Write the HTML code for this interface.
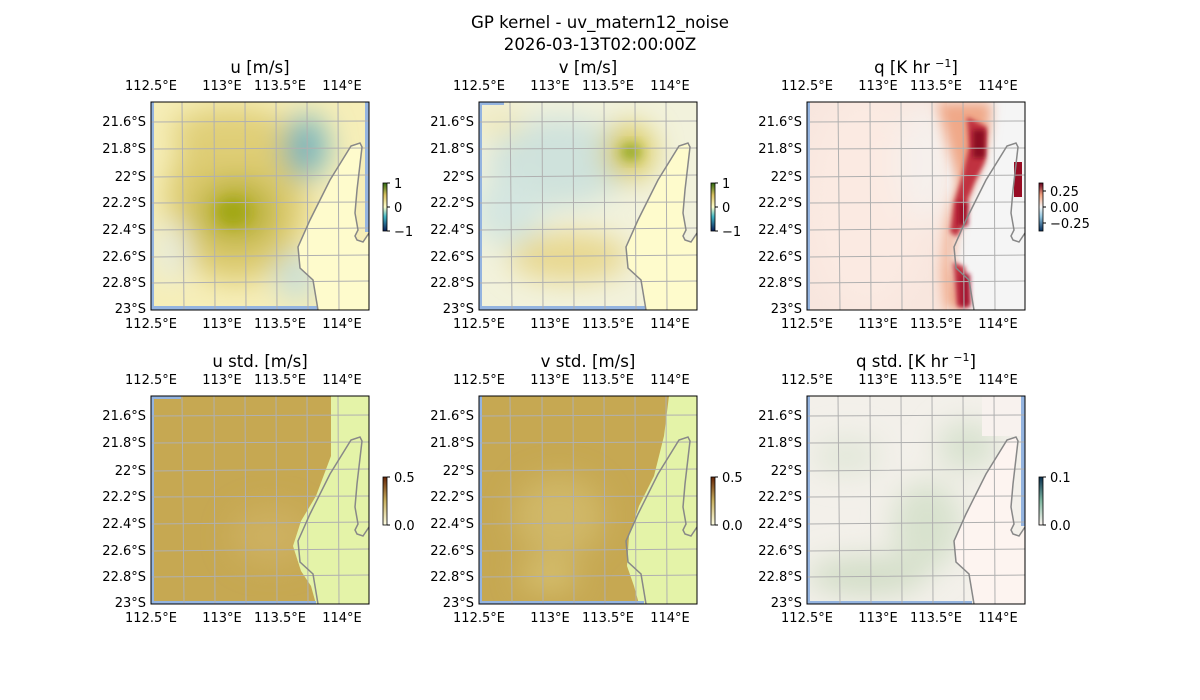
<!DOCTYPE html>
<html><head><meta charset="utf-8"><style>
body{margin:0;background:#fff;}
svg{display:block;font-family:"DejaVu Sans","Liberation Sans",sans-serif;}
</style></head><body>
<svg width="1200" height="700" viewBox="0 0 1200 700" xmlns="http://www.w3.org/2000/svg">
<defs>
<filter id="b" x="-50%" y="-50%" width="200%" height="200%"><feGaussianBlur stdDeviation="14"/></filter>
<filter id="b2" x="-50%" y="-50%" width="200%" height="200%"><feGaussianBlur stdDeviation="6"/></filter>
<filter id="b3" x="-50%" y="-50%" width="200%" height="200%"><feGaussianBlur stdDeviation="2.5"/></filter>
<clipPath id="c"><rect x="0" y="0" width="218" height="208"/></clipPath>
<g id="grid" fill="none" stroke="#b0b0b0" stroke-width="1">
<path d="M31,0 L33,208 M63,0 L64,208 M94,0 L95,208 M125,0 L126,208 M156,0 L157,208 M187,0 L188,208"/>
<path d="M0,20 L218,19 M0,47 L218,46 M0,75 L218,73 M0,101 L218,100 M0,128 L218,126 M0,155 L218,153 M0,181 L218,179"/>
</g>
<path id="coast" fill="none" stroke="#888" stroke-width="1.5" d="M167,208 L162,178 L149,166 L147,145 L159,118 L179,78 L200,44 L209,41 L211,45 L206,88 L204,111 L207,128 L204,134 L206,138 L212,140 L218,131"/>
<path id="land" d="M167,208 L162,178 L149,166 L147,145 L159,118 L179,78 L200,44 L209,41 L211,45 L206,88 L204,111 L207,128 L204,134 L206,138 L212,140 L218,131 L218,208 Z"/>
<g id="ticks" font-size="13" fill="#000">
<text x="0" y="-12" text-anchor="middle">112.5°E</text><text x="71" y="-12" text-anchor="middle">113°E</text><text x="129" y="-12" text-anchor="middle">113.5°E</text><text x="191" y="-12" text-anchor="middle">114°E</text>
<text x="0" y="226" text-anchor="middle">112.5°E</text><text x="71" y="226" text-anchor="middle">113°E</text><text x="129" y="226" text-anchor="middle">113.5°E</text><text x="191" y="226" text-anchor="middle">114°E</text>
<g text-anchor="end"><text x="-5" y="24">21.6°S</text><text x="-5" y="51">21.8°S</text><text x="-5" y="79">22°S</text><text x="-5" y="105">22.2°S</text><text x="-5" y="132">22.4°S</text><text x="-5" y="159">22.6°S</text><text x="-5" y="185">22.8°S</text><text x="-5" y="211">23°S</text></g>
</g>
</defs>
<text x="600" y="28" font-size="16.6" text-anchor="middle">GP kernel - uv_matern12_noise</text>
<text x="600" y="50" font-size="16.6" text-anchor="middle">2026-03-13T02:00:00Z</text>

<!-- Panel 1 u -->
<g transform="translate(151,102)">
<text x="109" y="-29" font-size="16.6" text-anchor="middle">u [m/s]</text>
<g clip-path="url(#c)">
<rect width="218" height="208" fill="#f6eeb8"/>
<g filter="url(#b)">
<ellipse cx="85" cy="100" rx="70" ry="80" fill="#dcca70"/>
<ellipse cx="80" cy="30" rx="60" ry="25" fill="#e0cf78"/>
<ellipse cx="85" cy="110" rx="38" ry="32" fill="#b8b030"/>
<ellipse cx="155" cy="45" rx="22" ry="32" fill="#7db6bb"/>
<ellipse cx="20" cy="150" rx="18" ry="30" fill="#e8ecdc"/>
<ellipse cx="145" cy="175" rx="20" ry="25" fill="#c9dfd8"/>
</g>
<ellipse cx="82" cy="110" rx="16" ry="14" fill="#a3a818" filter="url(#b2)"/>
<use href="#land" fill="#fefbcc"/>
<rect x="0" y="0" width="3" height="208" fill="#94b4e0"/><rect x="0" y="204" width="167" height="4" fill="#94b4e0"/><rect x="214" y="0" width="4" height="130" fill="#94b4e0"/>
<use href="#grid"/><use href="#coast"/>
</g>
<rect width="218" height="208" fill="none" stroke="#000"/>
<use href="#ticks"/>
</g>
<g transform="translate(383,183)" font-size="13"><defs><linearGradient id="g1" x1="0" y1="1" x2="0" y2="0"><stop offset="0" stop-color="#081d58"/><stop offset="0.3" stop-color="#41b6c4"/><stop offset="0.5" stop-color="#ffffcc"/><stop offset="0.75" stop-color="#d8c060"/><stop offset="1" stop-color="#2e6b10"/></linearGradient></defs>
<rect width="4" height="48" fill="url(#g1)" stroke="#000" stroke-width="0.8"/><path d="M4,0h3M4,24h3M4,48h3" stroke="#000"/>
<text x="11" y="5">1</text><text x="11" y="29">0</text><text x="11" y="53">−1</text></g>

<!-- Panel 2 v -->
<g transform="translate(479,102)">
<text x="109" y="-29" font-size="16.6" text-anchor="middle">v [m/s]</text>
<g clip-path="url(#c)">
<rect width="218" height="208" fill="#f2f2dc"/>
<g filter="url(#b)">
<ellipse cx="80" cy="60" rx="70" ry="45" fill="#cfe2dc"/>
<ellipse cx="30" cy="110" rx="35" ry="35" fill="#d4e6e0"/>
<ellipse cx="90" cy="155" rx="60" ry="25" fill="#e8d890"/>
<ellipse cx="150" cy="50" rx="25" ry="28" fill="#d8c858"/>
<ellipse cx="20" cy="20" rx="25" ry="15" fill="#f0e8b8"/>
</g>
<ellipse cx="152" cy="50" rx="10" ry="8" fill="#8ea820" filter="url(#b2)"/>
<use href="#land" fill="#fefbcc"/>
<rect x="0" y="0" width="3" height="208" fill="#94b4e0"/><rect x="0" y="204" width="167" height="4" fill="#94b4e0"/><rect x="0" y="0" width="25" height="3" fill="#94b4e0"/>
<use href="#grid"/><use href="#coast"/>
</g>
<rect width="218" height="208" fill="none" stroke="#000"/>
<use href="#ticks"/>
</g>
<g transform="translate(711,183)" font-size="13">
<rect width="4" height="48" fill="url(#g1)" stroke="#000" stroke-width="0.8"/><path d="M4,0h3M4,24h3M4,48h3" stroke="#000"/>
<text x="11" y="5">1</text><text x="11" y="29">0</text><text x="11" y="53">−1</text></g>

<!-- Panel 3 q -->
<g transform="translate(807,102)">
<text x="109" y="-29" font-size="16.6" text-anchor="middle">q [K hr <tspan font-size="11" dy="-6">−1</tspan><tspan dy="6">]</tspan></text>
<g clip-path="url(#c)">
<rect width="218" height="208" fill="#f8e6de"/>
<g filter="url(#b)"><ellipse cx="60" cy="100" rx="60" ry="110" fill="#fbeae2"/><ellipse cx="120" cy="60" rx="30" ry="60" fill="#f6f0ec"/></g>
<rect x="140" y="0" width="78" height="208" fill="#f5f5f5"/>
<path d="M130,0 L185,0 L182,30 L175,60 L160,95 L150,125 L145,160 L150,180 L160,208 L138,208 L135,170 L140,120 L150,80 L140,40 Z" fill="#f0a888" filter="url(#b2)"/>
<g filter="url(#b3)">
<path d="M160,15 L180,25 L178,60 L168,80 L160,100 L155,125 L150,135 L143,130 L147,100 L155,75 L162,45 Z" fill="#c03040"/>
<path d="M146,160 L158,165 L162,205 L150,205 Z" fill="#c03040"/>
</g>
<rect x="166" y="28" width="12" height="28" fill="#8b0a22" filter="url(#b3)"/>
<rect x="151" y="100" width="10" height="24" fill="#a01028" filter="url(#b3)"/>
<rect x="153" y="172" width="10" height="32" fill="#a51830" filter="url(#b3)"/>
<rect x="207" y="60" width="8" height="35" fill="#980c24"/>
<use href="#grid"/><use href="#coast"/>
<rect x="0" y="0" width="3" height="208" fill="#94b4e0"/>
</g>
<rect width="218" height="208" fill="none" stroke="#000"/>
<use href="#ticks"/>
</g>
<g transform="translate(1039,183)" font-size="13"><defs><linearGradient id="g3" x1="0" y1="1" x2="0" y2="0"><stop offset="0" stop-color="#053061"/><stop offset="0.3" stop-color="#92c5de"/><stop offset="0.5" stop-color="#f7f7f7"/><stop offset="0.75" stop-color="#f4a582"/><stop offset="1" stop-color="#67001f"/></linearGradient></defs>
<rect width="4" height="48" fill="url(#g3)" stroke="#000" stroke-width="0.8"/><path d="M4,8h3M4,24h3M4,40h3" stroke="#000"/>
<text x="11" y="13">0.25</text><text x="11" y="29">0.00</text><text x="11" y="45">−0.25</text></g>

<!-- Panel 4 u std -->
<g transform="translate(151,396)">
<text x="109" y="-29" font-size="16.6" text-anchor="middle">u std. [m/s]</text>
<g clip-path="url(#c)">
<rect width="218" height="208" fill="#c6a852"/>
<g filter="url(#b)"><ellipse cx="120" cy="140" rx="40" ry="30" fill="#cdb060"/></g>
<path d="M180,0 L218,0 L218,208 L165,208 L160,190 L150,175 L142,150 L150,125 L165,100 L180,60 Z" fill="#e4f3a8"/>
<rect x="0" y="0" width="3" height="208" fill="#94b4e0"/><rect x="0" y="205" width="165" height="3" fill="#94b4e0"/><rect x="0" y="0" width="30" height="3" fill="#94b4e0"/>
<use href="#grid"/><use href="#coast"/>
</g>
<rect width="218" height="208" fill="none" stroke="#000"/>
<use href="#ticks"/>
</g>
<g transform="translate(383,477)" font-size="13"><defs><linearGradient id="g4" x1="0" y1="1" x2="0" y2="0"><stop offset="0" stop-color="#ffffe5"/><stop offset="0.5" stop-color="#c8b060"/><stop offset="1" stop-color="#662506"/></linearGradient></defs>
<rect width="4" height="48" fill="url(#g4)" stroke="#000" stroke-width="0.8"/><path d="M4,0h3M4,48h3" stroke="#000"/>
<text x="11" y="5">0.5</text><text x="11" y="53">0.0</text></g>

<!-- Panel 5 v std -->
<g transform="translate(479,396)">
<text x="109" y="-29" font-size="16.6" text-anchor="middle">v std. [m/s]</text>
<g clip-path="url(#c)">
<rect width="218" height="208" fill="#c6a852"/>
<g filter="url(#b)"><ellipse cx="80" cy="120" rx="45" ry="40" fill="#d0b868"/><ellipse cx="70" cy="180" rx="30" ry="15" fill="#d6c070"/></g>
<path d="M190,0 L218,0 L218,208 L160,208 L155,190 L148,170 L150,140 L160,110 L175,80 L185,40 Z" fill="#e4f3a8"/>
<rect x="0" y="0" width="3" height="208" fill="#94b4e0"/><rect x="0" y="205" width="165" height="3" fill="#94b4e0"/>
<use href="#grid"/><use href="#coast"/>
</g>
<rect width="218" height="208" fill="none" stroke="#000"/>
<use href="#ticks"/>
</g>
<g transform="translate(711,477)" font-size="13">
<rect width="4" height="48" fill="url(#g4)" stroke="#000" stroke-width="0.8"/><path d="M4,0h3M4,48h3" stroke="#000"/>
<text x="11" y="5">0.5</text><text x="11" y="53">0.0</text></g>

<!-- Panel 6 q std -->
<g transform="translate(807,396)">
<text x="109" y="-29" font-size="16.6" text-anchor="middle">q std. [K hr <tspan font-size="11" dy="-6">−1</tspan><tspan dy="6">]</tspan></text>
<g clip-path="url(#c)">
<rect width="218" height="208" fill="#f3f0ea"/>
<g filter="url(#b)"><ellipse cx="60" cy="180" rx="60" ry="20" fill="#d3dec8"/><ellipse cx="120" cy="130" rx="35" ry="45" fill="#d8e2ce"/><ellipse cx="160" cy="50" rx="30" ry="25" fill="#d8e2cf"/><ellipse cx="40" cy="60" rx="35" ry="20" fill="#e3e8da"/></g>
<use href="#land" fill="#fdf4f0"/>
<rect x="175" y="0" width="43" height="40" fill="#f8f2ee"/>
<rect x="0" y="0" width="3" height="208" fill="#94b4e0"/><rect x="0" y="205" width="165" height="3" fill="#94b4e0"/><rect x="214" y="0" width="4" height="130" fill="#94b4e0"/>
<use href="#grid"/><use href="#coast"/>
</g>
<rect width="218" height="208" fill="none" stroke="#000"/>
<use href="#ticks"/>
</g>
<g transform="translate(1039,477)" font-size="13"><defs><linearGradient id="g6" x1="0" y1="1" x2="0" y2="0"><stop offset="0" stop-color="#fff7f3"/><stop offset="0.5" stop-color="#7fb7a0"/><stop offset="1" stop-color="#0a3050"/></linearGradient></defs>
<rect width="4" height="48" fill="url(#g6)" stroke="#000" stroke-width="0.8"/><path d="M4,0h3M4,48h3" stroke="#000"/>
<text x="11" y="5">0.1</text><text x="11" y="53">0.0</text></g>
</svg>
</body></html>
